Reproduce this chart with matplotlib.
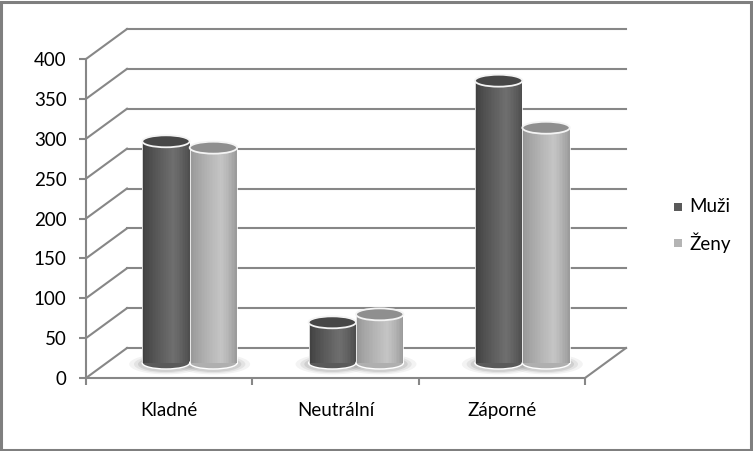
import matplotlib
matplotlib.use("Agg")
import matplotlib.pyplot as plt
from matplotlib.patches import Ellipse, Rectangle
from matplotlib.transforms import offset_copy
import numpy as np

# ---- data ----
categories = ["Kladné", "Neutrální", "Záporné"]
series_names = ["Muži", "Ženy"]
muzi = [278, 51, 354]
zeny = [270, 61, 295]
y_ticks = [0, 50, 100, 150, 200, 250, 300, 350, 400]

plt.rcParams['font.family'] = ['Lato', 'DejaVu Sans']
FS = 13.5
GRID = '#878787'

W, H = 753, 451
fig = plt.figure(figsize=(W / 100, H / 100), dpi=100)
fig.patch.set_facecolor('white')

# front plane axes
L, R, B, T = 86, 585, 378, 59
ax = fig.add_axes([L / W, (H - B) / H, (R - L) / W, (B - T) / H])
ax.set_xlim(-0.5, 2.5)
ax.set_ylim(0, 400)
ax.patch.set_alpha(0)
for s in ['top', 'right']:
    ax.spines[s].set_visible(False)
for s in ['left', 'bottom']:
    ax.spines[s].set_color(GRID)
    ax.spines[s].set_linewidth(1.5)

ax.set_yticks(y_ticks)
ax.set_yticklabels([str(v) for v in y_ticks], fontsize=FS)
ax.tick_params(axis='y', length=5, width=1.5, color=GRID, pad=9)
ax.set_xticks([-0.5, 0.5, 1.5, 2.5])
ax.set_xticklabels([])
ax.tick_params(axis='x', which='major', length=5, width=1.5, color=GRID)
ax.set_xticks(range(len(categories)), minor=True)
ax.set_xticklabels(categories, minor=True, fontsize=FS)
ax.tick_params(axis='x', which='minor', length=0, pad=17)

DX, DY = 41, 30
back = offset_copy(ax.transData, fig=fig, x=DX, y=DY, units='dots')
mid = offset_copy(ax.transData, fig=fig, x=DX / 2, y=DY / 2, units='dots')

# back wall gridlines and left-wall diagonals
for v in y_ticks:
    ax.plot([-0.5, 2.5], [v, v], color=GRID, lw=1.5, transform=back, clip_on=False, zorder=1)
    p0 = ax.transData.transform((-0.5, v))
    ax.plot([p0[0], p0[0] + DX], [p0[1], p0[1] + DY], color=GRID, lw=1.5,
            transform=None, clip_on=False, zorder=1)
# floor right edge
p1 = ax.transData.transform((2.5, 0))
ax.plot([p1[0], p1[0] + DX], [p1[1], p1[1] + DY], color=GRID, lw=1.5,
        transform=None, clip_on=False, zorder=1)

# cylinders
bw = 0.285
ell_h = 15.0
n = 30

def profile(t, lo, hi, edge):
    # luminance profile across cylinder
    return np.where(t < 0.65, lo + (hi - lo) * (t / 0.65) ** 0.8,
                    hi - (hi - edge) * ((t - 0.65) / 0.35) ** 1.3)

styles = {
    0: dict(lo=0.24, hi=0.43, edge=0.30, top='#474747', topedge='#f4f4f4'),
    1: dict(lo=0.58, hi=0.77, edge=0.60, top='#8f8f8f', topedge='#f4f4f4'),
}

z = 3
for ci in range(len(categories)):
    for si, vals in enumerate([muzi, zeny]):
        v = vals[ci]
        x0 = ci - bw + si * bw
        cx = x0 + bw / 2
        st = styles[si]
        # shadow on floor
        for k, (sc, a) in enumerate([(1.55, 0.10), (1.35, 0.15), (1.18, 0.22)]):
            ax.add_patch(Ellipse((cx, -1.5), bw * sc, ell_h * sc * 1.1, facecolor='#8a8a8a',
                                 edgecolor='none', alpha=a, transform=mid, clip_on=False, zorder=2))
        # bottom ellipse
        mean_l = float(np.mean(profile(np.linspace(0, 1, n), st['lo'], st['hi'], st['edge'])))
        ax.add_patch(Ellipse((cx, 0), bw, ell_h, facecolor=str(mean_l),
                             edgecolor='white', lw=1.0, transform=mid, clip_on=False, zorder=z))
        # body slices
        ts = (np.arange(n) + 0.5) / n
        lums = profile(ts, st['lo'], st['hi'], st['edge'])
        for k in range(n):
            ax.add_patch(Rectangle((x0 + k * bw / n, 0), bw / n * 1.05, v,
                                   facecolor=str(float(lums[k])), edgecolor='none',
                                   transform=mid, clip_on=False, zorder=z + 0.1))
        # side edges highlight
        ax.plot([x0, x0], [0, v], color='white', lw=0.7, alpha=0.8, transform=mid, clip_on=False, zorder=z + 0.2)
        ax.plot([x0 + bw, x0 + bw], [0, v], color='white', lw=0.7, alpha=0.8, transform=mid, clip_on=False, zorder=z + 0.2)
        # top ellipse
        ax.add_patch(Ellipse((cx, v), bw, ell_h, facecolor=st['top'],
                             edgecolor=st['topedge'], lw=1.3, transform=mid, clip_on=False, zorder=z + 0.3))
        z += 1

# legend
leg_cols = ['#5a5a5a', '#b4b4b4']
for i, (name, col) in enumerate(zip(series_names, leg_cols)):
    yy = 1 - (207 + i * 36) / H
    fig.patches.append(Rectangle((674 / W, yy - 3.5 / H), 8 / W, 8 / H, facecolor=col,
                                 edgecolor='none', transform=fig.transFigure))
    fig.text(689 / W, yy, name, fontsize=FS, va='center', ha='left')

# outer border
fig.patches.append(Rectangle((1.2 / W, 1.2 / H), (W - 3.5) / W, (H - 3.0) / H, fill=False,
                             edgecolor='#7f7f7f', lw=2.2, transform=fig.transFigure))

fig.savefig('out.png', dpi=100, facecolor='white')
